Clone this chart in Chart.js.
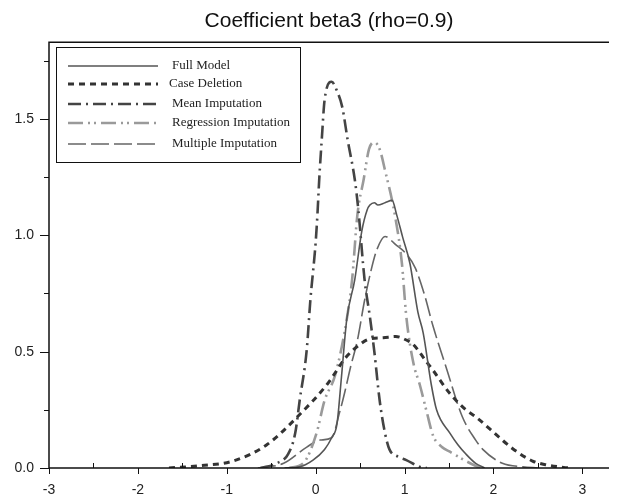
<!DOCTYPE html>
<html>
<head>
<meta charset="utf-8">
<script src="https://cdn.jsdelivr.net/npm/chart.js@4.4.1/dist/chart.umd.min.js"></script>
<style>
  html, body { margin: 0; padding: 0; background: #fff; }
  canvas { display: block; }
</style>
</head>
<body>
<canvas id="chart" width="618" height="504"></canvas>
<script>
// values
const seriesNames = ['Full Model', 'Case Deletion', 'Mean Imputation', 'Regression Imputation', 'Multiple Imputation'];

const fullX = [-0.35, -0.18, -0.03, 0.1, 0.18, 0.24, 0.29, 0.35, 0.44, 0.52, 0.58, 0.61, 0.66, 0.70, 0.78, 0.86, 0.91, 0.98, 1.06, 1.15, 1.21, 1.30, 1.36, 1.51, 1.60, 1.69, 1.80, 1.90];
const fullY = [0, 0.005, 0.034, 0.08, 0.13, 0.19, 0.39, 0.64, 0.81, 1.02, 1.11, 1.13, 1.14, 1.13, 1.14, 1.15, 1.09, 0.99, 0.88, 0.67, 0.58, 0.36, 0.25, 0.15, 0.10, 0.06, 0.02, 0];

const caseX = [-1.65, -1.3, -0.93, -0.55, -0.18, 0.13, 0.35, 0.46, 0.61, 0.76, 0.9, 1.02, 1.1, 1.24, 1.32, 1.51, 1.69, 1.8, 2.07, 2.21, 2.44, 2.6, 2.85];
const caseY = [0, 0.01, 0.03, 0.1, 0.23, 0.36, 0.48, 0.52, 0.555, 0.56, 0.565, 0.55, 0.53, 0.46, 0.42, 0.32, 0.25, 0.22, 0.13, 0.085, 0.03, 0.013, 0];

const meanX = [-0.62, -0.44, -0.31, -0.23, -0.18, -0.1, -0.06, 0.0, 0.02, 0.04, 0.07, 0.1, 0.18, 0.24, 0.3, 0.36, 0.44, 0.48, 0.55, 0.61, 0.66, 0.72, 0.78, 0.83, 0.92, 1.02, 1.17, 1.25];
const meanY = [0, 0.02, 0.06, 0.15, 0.29, 0.51, 0.72, 0.97, 1.09, 1.24, 1.42, 1.58, 1.66, 1.62, 1.55, 1.41, 1.24, 1.11, 0.81, 0.65, 0.5, 0.29, 0.15, 0.08, 0.05, 0.034, 0.005, 0];

const regX = [-0.3, -0.14, 0.01, 0.1, 0.22, 0.35, 0.41, 0.47, 0.54, 0.6, 0.66, 0.72, 0.78, 0.89, 0.97, 1.02, 1.1, 1.17, 1.25, 1.32, 1.42, 1.51, 1.6, 1.69, 1.85];
const regY = [0, 0.02, 0.15, 0.29, 0.40, 0.64, 0.81, 1.09, 1.24, 1.37, 1.40, 1.37, 1.28, 1.09, 0.88, 0.65, 0.45, 0.36, 0.24, 0.14, 0.09, 0.07, 0.05, 0.03, 0];

const multX = [-0.65, -0.36, -0.1, 0.05, 0.18, 0.27, 0.33, 0.39, 0.47, 0.55, 0.63, 0.69, 0.78, 0.9, 1.02, 1.12, 1.22, 1.32, 1.47, 1.65, 1.80, 1.88, 2.1, 2.33, 2.5];
const multY = [0, 0.02, 0.09, 0.12, 0.13, 0.24, 0.33, 0.43, 0.55, 0.72, 0.86, 0.94, 0.995, 0.96, 0.92, 0.86, 0.75, 0.61, 0.43, 0.22, 0.12, 0.08, 0.02, 0.005, 0];

const xTicks = [-3, -2, -1, 0, 1, 2, 3];
const xTickLabels = ['-3', '-2', '-1', '0', '1', '2', '3'];
const yTicks = [0, 0.5, 1, 1.5];
const yTickLabels = ['0.0', '0.5', '1.0', '1.5'];

const toPoints = (xs, ys) => xs.map((x, i) => ({ x, y: ys[i] }));

const styles = [
  { color: '#555555', width: 1.6, dash: [] },
  { color: '#333333', width: 3, dash: [6, 5] },
  { color: '#444444', width: 2.6, dash: [13, 5, 2, 5] },
  { color: '#9a9a9a', width: 2.6, dash: [15, 5, 2, 4, 2, 5] },
  { color: '#666666', width: 1.6, dash: [18, 5] }
];

const seriesData = [
  toPoints(fullX, fullY),
  toPoints(caseX, caseY),
  toPoints(meanX, meanY),
  toPoints(regX, regY),
  toPoints(multX, multY)
];

// axes, ticks, top rule and the boxed legend
const framePlugin = {
  id: 'frame',
  afterDraw(chart) {
    const { ctx, chartArea } = chart;
    const xs = chart.scales.x;
    const ys = chart.scales.y;
    ctx.save();
    ctx.strokeStyle = '#111';
    ctx.lineWidth = 1.5;
    ctx.setLineDash([]);

    ctx.beginPath();
    ctx.moveTo(chartArea.left, chartArea.bottom);
    ctx.lineTo(chartArea.right, chartArea.bottom);
    ctx.moveTo(chartArea.left, chartArea.bottom);
    ctx.lineTo(chartArea.left, chartArea.top);
    ctx.lineTo(chartArea.right, chartArea.top);
    ctx.stroke();

    ctx.lineWidth = 1;
    ctx.beginPath();
    xTicks.forEach(v => {
      const px = Math.round(xs.getPixelForValue(v)) + 0.5;
      ctx.moveTo(px, chartArea.bottom);
      ctx.lineTo(px, chartArea.bottom + 6);
      const m = v + 0.5;
      if (m < xs.max) {
        const pm = Math.round(xs.getPixelForValue(m)) + 0.5;
        ctx.moveTo(pm, chartArea.bottom);
        ctx.lineTo(pm, chartArea.bottom - 5);
      }
    });
    yTicks.forEach(v => {
      const py = Math.round(ys.getPixelForValue(v)) + 0.5;
      ctx.moveTo(chartArea.left, py);
      ctx.lineTo(chartArea.left - 9, py);
      const m = v + 0.25;
      if (m < ys.max) {
        const pm = Math.round(ys.getPixelForValue(m)) + 0.5;
        ctx.moveTo(chartArea.left, pm);
        ctx.lineTo(chartArea.left - 5, pm);
      }
    });
    ctx.stroke();

    // legend box
    const bx = 56.5, by = 47.5, bw = 244, bh = 115;
    ctx.fillStyle = '#fff';
    ctx.fillRect(bx, by, bw, bh);
    ctx.strokeStyle = '#111';
    ctx.lineWidth = 1;
    ctx.strokeRect(bx, by, bw, bh);
    const rows = [66, 84, 104, 123, 144];
    ctx.font = '13px "Liberation Serif", "Times New Roman", serif';
    ctx.textBaseline = 'middle';
    ctx.fillStyle = '#222';
    seriesNames.forEach((name, i) => {
      const st = styles[i];
      ctx.strokeStyle = st.color;
      ctx.lineWidth = st.width;
      ctx.setLineDash(st.dash);
      ctx.beginPath();
      ctx.moveTo(68, rows[i]);
      ctx.lineTo(158, rows[i]);
      ctx.stroke();
      ctx.fillText(name, i === 1 ? 169 : 172, rows[i]);
    });
    ctx.restore();
  }
};

new Chart(document.getElementById('chart'), {
  type: 'line',
  data: {
    datasets: seriesData.map((pts, i) => ({
      label: seriesNames[i],
      data: pts,
      borderColor: styles[i].color,
      borderWidth: styles[i].width,
      borderDash: styles[i].dash,
      pointRadius: 0,
      fill: false,
      cubicInterpolationMode: 'monotone'
    }))
  },
  options: {
    responsive: false,
    animation: false,
    layout: { padding: { left: 0, right: 9, top: 0, bottom: 0 } },
    plugins: {
      legend: { display: false },
      tooltip: { enabled: false },
      title: {
        display: true,
        fullSize: false,
        text: 'Coefficient beta3 (rho=0.9)',
        color: '#111',
        font: { family: '"Liberation Sans", Arial, sans-serif', size: 21, weight: 'normal' },
        padding: { top: 9, bottom: 8 }
      }
    },
    scales: {
      x: {
        type: 'linear',
        min: -3,
        max: 3.3,
        grid: { display: false, drawTicks: false },
        border: { display: false },
        afterBuildTicks: s => { s.ticks = xTicks.map(v => ({ value: v })); },
        afterFit: s => { s.height = 36; },
        ticks: {
          padding: 14,
          color: '#222',
          font: { family: '"Liberation Sans", Arial, sans-serif', size: 14 },
          maxRotation: 0,
          callback: v => xTickLabels[xTicks.indexOf(v)]
        }
      },
      y: {
        min: 0,
        max: 1.83,
        grid: { display: false, drawTicks: false },
        border: { display: false },
        afterBuildTicks: s => { s.ticks = yTicks.map(v => ({ value: v })); },
        afterFit: s => { s.width = 49; },
        ticks: {
          padding: 15,
          color: '#222',
          font: { family: '"Liberation Sans", Arial, sans-serif', size: 14 },
          callback: v => yTickLabels[yTicks.indexOf(v)]
        }
      }
    }
  },
  plugins: [framePlugin]
});
</script>
</body>
</html>
